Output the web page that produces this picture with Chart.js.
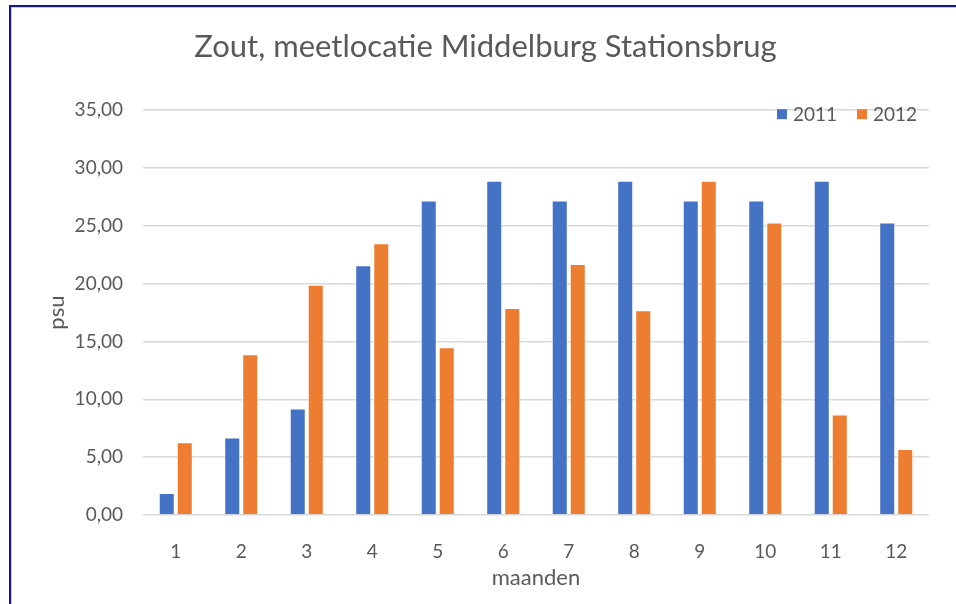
<!DOCTYPE html>
<html lang="nl">
<head>
<meta charset="utf-8">
<title>Zout, meetlocatie Middelburg Stationsbrug</title>
<script src="https://cdn.jsdelivr.net/npm/chart.js@4.4.1/dist/chart.umd.min.js"></script>
<style>
  html, body { margin: 0; padding: 0; background: #fff; overflow: hidden; }
  #wrap { position: absolute; left: 0; top: 0; width: 970px; height: 604px; }
  #frame {
    position: absolute; left: 9px; top: 5px; width: 1000px; height: 700px;
    border: 2px solid #16168a; box-shadow: inset 1px 1px 0 #c9cbe4;
    pointer-events: none;
  }
</style>
</head>
<body>
<div id="wrap"><canvas id="chart"></canvas></div>
<div id="frame"></div>
<script>
  // ---- Data ----
  const months = ["1", "2", "3", "4", "5", "6", "7", "8", "9", "10", "11", "12"];
  const salt2011 = [1.9, 6.7, 9.2, 21.6, 27.2, 28.9, 27.2, 28.9, 27.2, 27.2, 28.9, 25.3];
  const salt2012 = [6.3, 13.9, 19.9, 23.5, 14.5, 17.9, 21.7, 17.7, 28.9, 25.3, 8.7, 5.7];
  const yTickValues = [0, 5, 10, 15, 20, 25, 30, 35];

  const TEXT = "#595959";
  const FONT = "Lato, 'Open Sans', sans-serif";

  // Legend drawn inside the plot area, top right (like the Excel original)
  const innerLegend = {
    id: "innerLegend",
    afterDraw(chart) {
      const { ctx, chartArea } = chart;
      const y = chartArea.top + 4;
      let x = chartArea.right - 152;
      ctx.save();
      ctx.font = "19px " + FONT;
      ctx.textBaseline = "middle";
      chart.data.datasets.forEach((ds) => {
        ctx.fillStyle = ds.backgroundColor;
        ctx.fillRect(x, y - 5, 10, 10);
        ctx.fillStyle = TEXT;
        ctx.fillText(ds.label, x + 16, y + 1);
        x += 80;
      });
      ctx.restore();
    },
  };

  new Chart(document.getElementById("chart"), {
    type: "bar",
    data: {
      labels: months,
      datasets: [
        { label: "2011", data: salt2011, backgroundColor: "#4472C4", borderColor: "rgba(255,255,255,0.45)", borderWidth: 1 },
        { label: "2012", data: salt2012, backgroundColor: "#ED7D31", borderColor: "rgba(255,255,255,0.45)", borderWidth: 1 },
      ],
    },
    options: {
      responsive: true,
      maintainAspectRatio: false,
      animation: false,
      layout: { padding: { left: 42, right: 41, top: 0, bottom: 0 } },
      datasets: { bar: { categoryPercentage: 0.55, barPercentage: 0.89 } },
      plugins: {
        legend: { display: false },
        tooltip: { enabled: false },
        title: {
          display: true,
          text: "Zout, meetlocatie Middelburg Stationsbrug",
          color: TEXT,
          font: { family: FONT, size: 31, weight: "normal", lineHeight: 1.2 },
          padding: { top: 28, bottom: 45 },
        },
      },
      scales: {
        x: {
          grid: { display: false },
          border: { display: false },
          ticks: { color: TEXT, font: { family: FONT, size: 19 }, padding: 17 },
          title: {
            display: true, text: "maanden", color: TEXT,
            font: { family: FONT, size: 22, lineHeight: 1.2 },
            padding: { top: 0, bottom: 13 },
          },
          afterFit: (s) => { s.height = 89; },
        },
        y: {
          min: 0, max: 35,
          afterBuildTicks: (s) => { s.ticks = yTickValues.map((v) => ({ value: v })); },
          grid: { color: "#d9d9d9", lineWidth: 1.5, drawTicks: false },
          border: { display: false },
          ticks: {
            color: TEXT, font: { family: FONT, size: 19 }, padding: 20,
            callback: (v) => Number(v).toFixed(2).replace(".", ","),
          },
          title: {
            display: true, text: "psu", color: TEXT,
            font: { family: FONT, size: 22, lineHeight: 1.2 },
            padding: { top: 2, bottom: 0 },
          },
          afterFit: (s) => { s.width = 101; },
        },
      },
    },
    plugins: [innerLegend],
  });
</script>
</body>
</html>
